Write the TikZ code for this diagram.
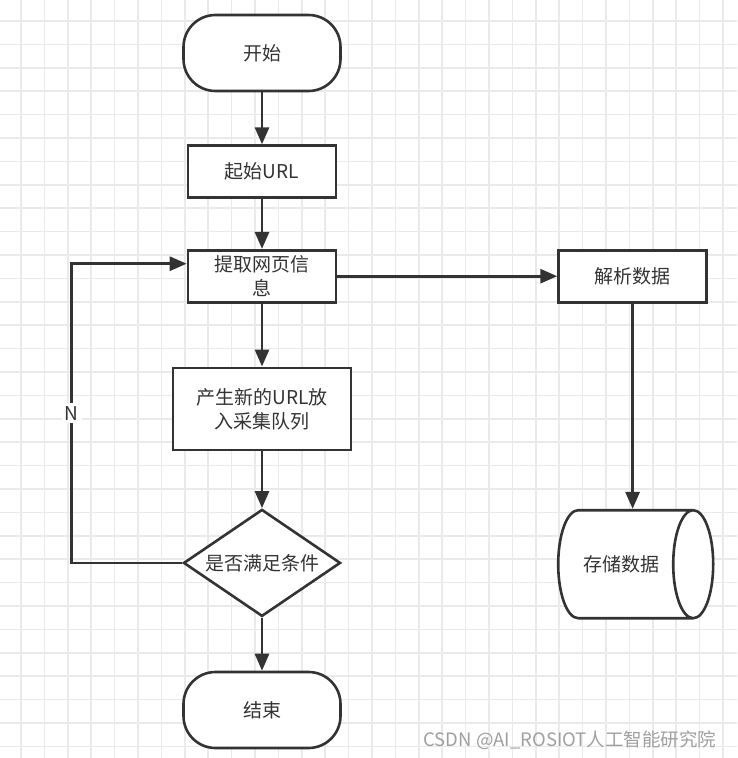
\documentclass[tikz,border=0pt]{standalone}
\usepackage{fontspec}
\setmainfont{Noto Sans CJK SC}
\usepackage{tikz}
\newcommand{\boxwidth}{148pt}
\newcommand{\boxheight}{52pt}
\definecolor{lineGray}{RGB}{51,51,51}
\definecolor{gridGray}{RGB}{234,234,234}
\usetikzlibrary{arrows.meta,calc,positioning,shapes.geometric}
\tikzset{
  >={Triangle[length=17pt,width=14pt]},
  font=\fontsize{19}{24}\selectfont,
  rect/.style={draw=lineGray,text=lineGray,line width=2.6pt,fill=white,shape=rectangle,minimum width=\boxwidth,minimum height=\boxheight,inner xsep=2pt,inner ysep=0pt,align=center},
  term/.style={draw=lineGray,text=lineGray,line width=2.6pt,fill=white,shape=rectangle,rounded corners=32pt,minimum width=157pt,minimum height=76pt},
  decision/.style={draw=lineGray,text=lineGray,line width=2.6pt,fill=white,shape=diamond,shape aspect=1.45,minimum width=157pt,minimum height=107pt,inner sep=0pt},
  store/.style={draw=lineGray,text=lineGray,line width=2.6pt,fill=white,shape=cylinder,shape aspect=1.65,minimum width=108pt,minimum height=155pt},
  line/.style={draw=lineGray,->,line width=2.8pt},
  gridline/.style={draw=gridGray,line width=1.6pt},
}

\begin{document}
\begin{tikzpicture}
  \useasboundingbox (0pt,0pt) rectangle (737pt,-758pt);
  % background grid
  \begin{scope}
    \clip (0pt,0pt) rectangle (737pt,-758pt);
    \draw [gridline,step=23.4pt,shift={(21pt,-21pt)}] (-30pt,-760pt) grid (730pt,30pt);
  \end{scope}

  \node (start) [term] at (262pt,-53pt) {开始};
  \node (url) [rect,below=52pt of start] {起始URL};
  \node (fetch) [rect,below=50pt of url] {提取网页信\\息};
  \node (gen) [rect,below=63pt of fetch,minimum width=178pt,minimum height=82pt] {产生新的URL放\\入采集队列};
  \node (cond) [decision,below=57pt of gen] {是否满足条件};
  \node (stop) [term,below=53pt of cond] {结束};
  \node (parse) [rect,right=220pt of fetch] {解析数据};
  \node (store) [store] at ($(parse)+(-11pt,-288pt)$) {存储数据};
  \coordinate (back) at ($(fetch.west)+(-115pt,12.5pt)$);

  \path [line] (start) -- (url);
  \path [line] (url) -- (fetch);
  \path [line] (fetch) -- (gen);
  \path [line] (gen) -- (cond);
  \path [line] (cond) -- (stop);
  \path [line] (fetch) -- (parse);
  \path [line] (parse) -- (parse |- store.north);
  \path [line] (cond.west) -| node[pos=0.75,fill=white,text=lineGray,inner sep=3pt]{N} (back) -- (fetch.west |- back);

  \node (mark) [text=gray!75,font=\fontsize{18.5}{22}\selectfont] at (570pt,-740pt) {CSDN @AI\_ROSIOT人工智能研究院};
\end{tikzpicture}
\end{document}
